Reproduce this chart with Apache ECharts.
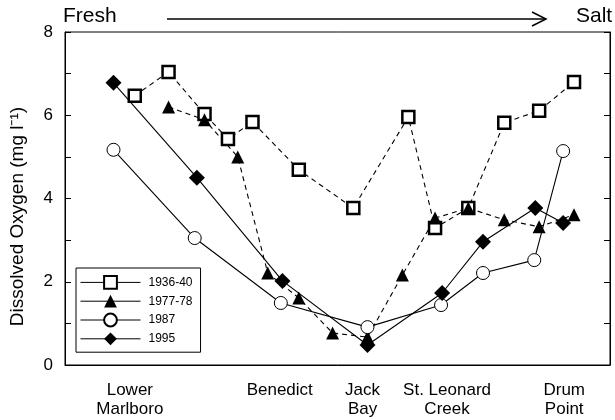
<!DOCTYPE html>
<html>
<head>
<meta charset="utf-8">
<script src="https://cdn.jsdelivr.net/npm/echarts@6/dist/echarts.min.js"></script>
<style>
  html, body { margin: 0; padding: 0; background: #fff; }
  #chart { width: 615px; height: 420px; }
</style>
</head>
<body>
<div id="chart"></div>
<script>
// station positions along the estuary (axis units 0-100)
const siteNames = ['Lower\nMarlboro', 'Benedict', 'Jack\nBay', 'St. Leonard\nCreek', 'Drum\nPoint']
const sitePos = [11.9, 39.4, 54.6, 70.1, 91.6]

const yTicks = [0, 2, 4, 6, 8]

// 1936-40
const x1936 = [12.8, 19.0, 25.6, 29.9, 34.4, 42.9, 52.9, 63.0, 67.9, 74.0, 80.6, 87.0, 93.4]
const y1936 = [6.47, 7.04, 6.03, 5.43, 5.84, 4.69, 3.77, 5.96, 3.29, 3.77, 5.82, 6.11, 6.8]
// 1977-78
const x1977 = [19.0, 25.6, 31.7, 37.2, 42.9, 49.1, 55.5, 61.9, 67.9, 74.0, 80.6, 87.0, 93.4]
const y1977 = [6.2, 5.89, 5.0, 2.21, 1.61, 0.77, 0.67, 2.16, 3.53, 3.77, 3.49, 3.32, 3.61]
// 1987
const x1987 = [8.9, 23.8, 39.6, 55.5, 69.0, 76.7, 86.1, 91.4]
const y1987 = [5.17, 3.05, 1.49, 0.91, 1.44, 2.21, 2.52, 5.14]
// 1995
const x1995 = [8.9, 24.2, 39.9, 55.5, 69.2, 76.7, 86.3, 91.4]
const y1995 = [6.78, 4.5, 2.02, 0.48, 1.73, 2.96, 3.77, 3.41]

const FONT = '"Liberation Sans", Arial, sans-serif'

const zip = (xs, ys) => xs.map((x, i) => [x, ys[i]])

const makeSeries = (name, data, symbol, opts) => ({
  name,
  type: 'line',
  data,
  symbol,
  symbolSize: opts.size,
  showSymbol: true,
  animation: false,
  lineStyle: { color: '#000', width: 1.1, type: opts.dashed ? [5, 4] : 'solid' },
  itemStyle: {
    color: opts.filled ? '#000' : '#fff',
    borderColor: '#000',
    borderWidth: opts.border,
  },
  emphasis: { disabled: true },
})

const chart = echarts.init(document.getElementById('chart'))

const valueYAxis = (position, showLabel) => ({
  type: 'value',
  position,
  min: 0,
  max: 8,
  interval: 2,
  axisLine: { show: true, lineStyle: { color: '#000', width: 1 } },
  axisTick: { show: true, inside: true, length: 6, lineStyle: { color: '#000' } },
  minorTick: { show: true, splitNumber: 2, length: 6, lineStyle: { color: '#000' } },
  splitLine: { show: false },
  axisLabel: {
    show: showLabel,
    color: '#000',
    fontSize: 17,
    fontFamily: FONT,
    margin: 12,
    customValues: yTicks,
  },
})

const left = valueYAxis('left', true)
left.name = 'Dissolved Oxygen (mg l⁻¹)'
left.nameLocation = 'middle'
left.nameGap = 38
left.nameTextStyle = { color: '#000', fontSize: 19, fontFamily: FONT, padding: [0, 36, 0, 0] }

chart.setOption({
  backgroundColor: '#fff',
  animation: false,
  grid: {
    left: 64,
    right: 5,
    top: 32,
    bottom: 55,
    show: true,
    borderColor: '#000',
    borderWidth: 1,
  },
  xAxis: {
    type: 'value',
    min: 0,
    max: 100,
    axisLine: { show: true, lineStyle: { color: '#000' } },
    axisTick: { show: false },
    splitLine: { show: false },
    axisLabel: {
      color: '#000',
      fontSize: 17,
      fontFamily: FONT,
      lineHeight: 19,
      margin: 16,
      customValues: sitePos,
      formatter: v => {
        const i = sitePos.indexOf(v)
        return i >= 0 ? siteNames[i] : ''
      },
    },
  },
  yAxis: [left, valueYAxis('right', false)],
  legend: {
    orient: 'vertical',
    left: 76,
    top: 268,
    padding: [7, 8, 7, 4],
    itemWidth: 60,
    itemHeight: 16,
    itemGap: 5,
    borderColor: '#000',
    borderWidth: 1,
    lineStyle: { type: 'solid', width: 1, color: '#000' },
    textStyle: { color: '#000', fontSize: 12, fontFamily: FONT, padding: [0, 0, 0, 3] },
    data: ['1936-40', '1977-78', '1987', '1995'],
  },
  graphic: [
    { type: 'text', left: 63, top: 6, style: { text: 'Fresh', fontSize: 21, fontFamily: FONT, fill: '#000' } },
    { type: 'text', left: 576, top: 6, style: { text: 'Salt', fontSize: 21, fontFamily: FONT, fill: '#000' } },
    { type: 'line', shape: { x1: 167, y1: 19, x2: 545, y2: 19 }, style: { stroke: '#000', lineWidth: 1.5 } },
    { type: 'polyline', shape: { points: [[532, 12], [546, 19], [532, 26]] }, style: { stroke: '#000', lineWidth: 1.5, fill: null } },
  ],
  series: [
    makeSeries('1936-40', zip(x1936, y1936), 'rect', { size: 12, dashed: true, filled: false, border: 2.5 }),
    makeSeries('1977-78', zip(x1977, y1977), 'triangle', { size: 13, dashed: true, filled: true, border: 0 }),
    makeSeries('1987', zip(x1987, y1987), 'circle', { size: 13, dashed: false, filled: false, border: 1 }),
    makeSeries('1995', zip(x1995, y1995), 'diamond', { size: 16, dashed: false, filled: true, border: 0 }),
  ],
})
</script>
</body>
</html>
